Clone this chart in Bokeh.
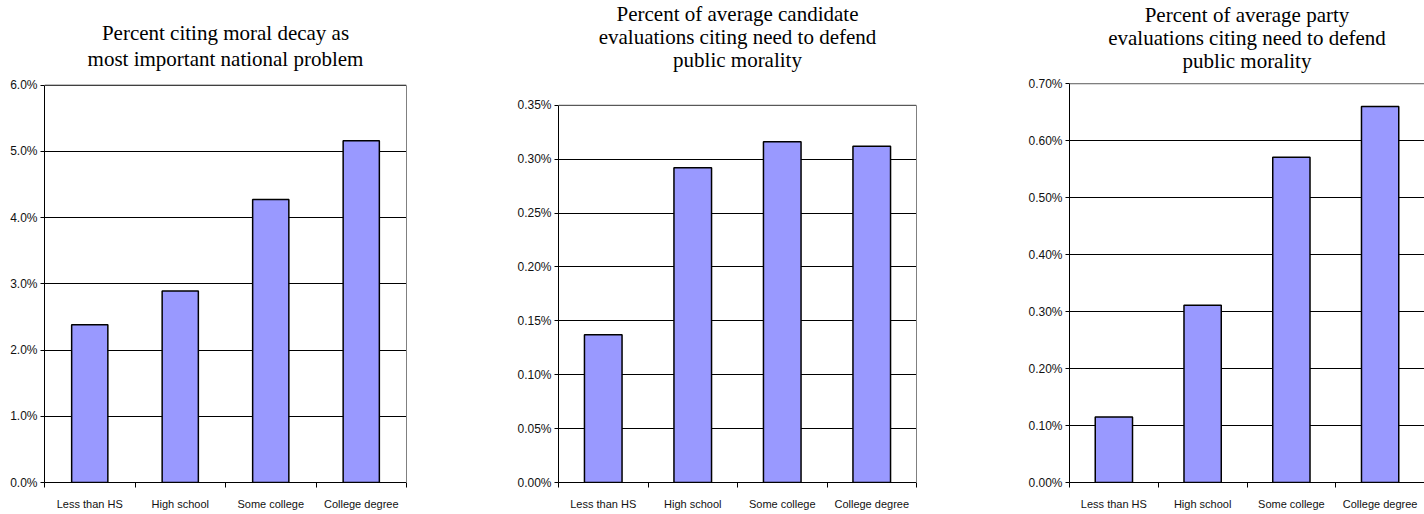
from bokeh.plotting import figure
from bokeh.layouts import row
from bokeh.models import (Range1d, FixedTicker, PrintfTickFormatter, Title,
                          Span, LinearAxis)
from bokeh.embed import file_html
from bokeh.resources import INLINE

# ---- data -------------------------------------------------------------
categories = ["Less than HS", "High school", "Some college", "College degree"]

moral_decay_pct = [2.38, 2.89, 4.27, 5.16]
candidate_eval_pct = [0.137, 0.292, 0.316, 0.312]
party_eval_pct = [0.115, 0.311, 0.571, 0.660]

ticks_moral = [0.0, 1.0, 2.0, 3.0, 4.0, 5.0, 6.0]
ticks_candidate = [0.00, 0.05, 0.10, 0.15, 0.20, 0.25, 0.30, 0.35]
ticks_party = [0.00, 0.10, 0.20, 0.30, 0.40, 0.50, 0.60, 0.70]

title_moral = ["Percent citing moral decay as",
               "most important national problem"]
title_candidate = ["Percent of average candidate",
                   "evaluations citing need to defend",
                   "public morality"]
title_party = ["Percent of average party",
               "evaluations citing need to defend",
               "public morality"]

# ---- style / layout ---------------------------------------------------
BAR_COLOR = "#9999FF"
BORDER_GRAY = "#808080"
SANS = "Liberation Sans"
SERIF = "Liberation Serif"
HEIGHT = 514
TOP = 83       # common top border (row aligns frames)
BOTTOM = 32    # common bottom border


def set_standoff(t, s):
    try:
        t.standoff = s
    except Exception:
        t.standoff = max(0, s)


def make_panel(values, ticks, fmt, title_lines, width, bl, br, top_px,
               gap_standoff, line_standoff, bar_w, right_border=True):
    n = len(categories)
    centers = [i + 0.5 for i in range(n)]
    bounds = [float(i) for i in range(n + 1)]

    # the top tick sits `top_px` pixels below the canvas top
    frame_h = HEIGHT - TOP - BOTTOM
    extra = top_px - TOP
    y_end = ticks[-1] * frame_h / (frame_h - extra)

    p = figure(width=width, height=HEIGHT, output_backend="svg",
               toolbar_location=None, tools="",
               x_range=Range1d(0, n), y_range=Range1d(0, y_end),
               min_border_left=bl, min_border_right=br,
               min_border_top=TOP, min_border_bottom=BOTTOM)
    p.background_fill_color = "white"
    p.border_fill_color = "white"
    p.outline_line_color = None

    # title: a thin spacer next to the frame, then one centred Title per line
    spacer = Title(text=" ", text_font_size="1px", text_font=SERIF)
    set_standoff(spacer, gap_standoff)
    p.add_layout(spacer, "above")
    for line in reversed(title_lines):
        t = Title(text=line, align="center", vertical_align="bottom",
                  text_font=SERIF, text_font_size="21px",
                  text_font_style="normal", text_color="black")
        set_standoff(t, line_standoff)
        p.add_layout(t, "above")

    p.xgrid.visible = False
    p.ygrid.grid_line_color = "black"
    p.ygrid.grid_line_width = 1

    p.vbar(x=centers, top=values, bottom=0, width=bar_w,
           fill_color=BAR_COLOR, line_color="black", line_width=1.5)

    # y axis
    ya = p.yaxis[0]
    ya.bounds = (0, ticks[-1])
    ya.ticker = FixedTicker(ticks=ticks, minor_ticks=[])
    ya.formatter = PrintfTickFormatter(format=fmt)
    ya.major_tick_out = 4
    ya.major_tick_in = 0
    ya.minor_tick_line_color = None
    ya.major_label_standoff = 3
    ya.major_label_text_font = SANS
    ya.major_label_text_font_size = "12px"
    ya.major_label_text_color = "#111111"
    ya.axis_line_color = "black"
    ya.major_tick_line_color = "black"

    # x axis: labels at category centres, ticks at category boundaries
    xa = p.xaxis[0]
    xa.ticker = FixedTicker(ticks=centers, minor_ticks=bounds)
    xa.major_label_overrides = {c: lab for c, lab in zip(centers, categories)}
    xa.major_tick_out = 0
    xa.major_tick_in = 0
    xa.major_tick_line_color = None
    xa.minor_tick_out = 5
    xa.minor_tick_in = 0
    xa.minor_tick_line_color = "black"
    xa.major_label_standoff = 10
    xa.major_label_text_font = SANS
    xa.major_label_text_font_size = "11px"
    xa.major_label_text_color = "#111111"
    xa.axis_line_color = "black"

    # gray plot-area border (top and right)
    p.add_layout(Span(location=ticks[-1], dimension="width",
                      line_color=BORDER_GRAY, line_width=1))
    if right_border:
        ra = LinearAxis(bounds=(0, ticks[-1]),
                        ticker=FixedTicker(ticks=[], minor_ticks=[]),
                        axis_line_color=BORDER_GRAY,
                        major_tick_line_color=None,
                        minor_tick_line_color=None,
                        major_label_text_font_size="0px")
        p.add_layout(ra, "right")
    return p


p1 = make_panel(moral_decay_pct, ticks_moral, "%.1f%%", title_moral,
                width=475, bl=44, br=69, top_px=84.5,
                gap_standoff=10, line_standoff=0, bar_w=0.40)
p2 = make_panel(candidate_eval_pct, ticks_candidate, "%.2f%%", title_candidate,
                width=485, bl=83, br=44, top_px=104.7,
                gap_standoff=10, line_standoff=-3, bar_w=0.42)
p3 = make_panel(party_eval_pct, ticks_party, "%.2f%%", title_party,
                width=464, bl=109, br=0, top_px=83.3,
                gap_standoff=9, line_standoff=-3, bar_w=0.42,
                right_border=False)

layout = row(p1, p2, p3)
open("out.html", "w").write(file_html(layout, INLINE))
